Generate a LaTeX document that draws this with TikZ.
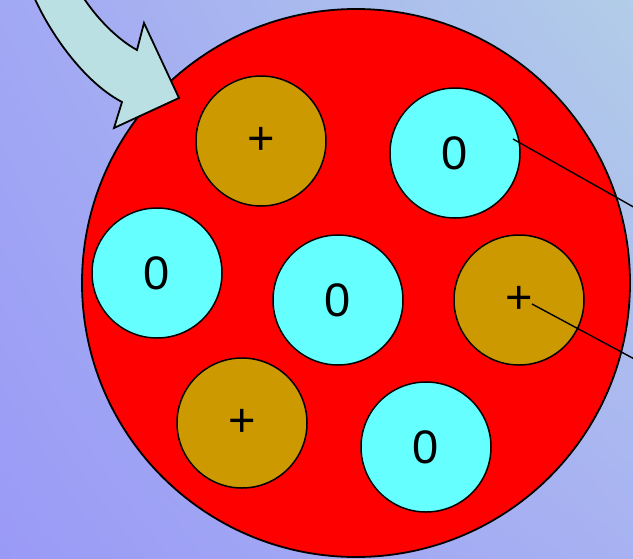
\documentclass[tikz,border=0pt]{standalone}
\usepackage{fontspec}
\setmainfont{Liberation Sans}
\usetikzlibrary{shadings}
\begin{document}
\begin{tikzpicture}[x=1pt,y=-1pt,
  ballbase/.style={circle,draw=black,line width=1.5pt,minimum size=130pt,inner sep=0pt,font=\fontsize{47}{47}\selectfont},
  protonball/.style={ballbase,fill=pluscol},
  neutronball/.style={ballbase,fill=zerocol},
  leadline/.style={draw=black,line width=1.4pt}]
\definecolor{bgUL}{RGB}{162,168,244}
\definecolor{bgUR}{RGB}{178,205,232}
\definecolor{bgLL}{RGB}{154,154,246}
\definecolor{bgLR}{RGB}{168,178,242}
\definecolor{pluscol}{RGB}{204,153,0}
\definecolor{zerocol}{RGB}{102,255,255}
\definecolor{arrowcol}{RGB}{187,224,227}
\useasboundingbox (0,0) rectangle (633,558);
\clip (0,0) rectangle (633,558);
\shade[upper left=bgUL,upper right=bgUR,lower left=bgLL,lower right=bgLR] (0,0) rectangle (633,558);
% big nucleus
\node[circle,draw=black,line width=1.8pt,fill=red,minimum size=548pt,inner sep=0pt] (nuc) at (356,283) {};
% curved block arrow
\draw[fill=arrowcol,line width=1.8pt,line join=miter]
  (28,-18) .. controls (42,22) and (80,80) .. (122,102)
  -- (114,128) -- (179,98) -- (144,23) -- (137,50)
  .. controls (115,38) and (90,12) .. (74,-18) -- cycle;
% protons and neutrons
\node[protonball] (p1) at (261,141) {+};
\node[neutronball] (n1) at (455,153) {0};
\node[neutronball] (n2) at (157,273) {0};
\node[neutronball] (n3) at (338,300) {0};
\node[protonball] (p2) at (519,300) {+};
\node[protonball] (p3) at (242,423) {+};
\node[neutronball] (n4) at (426,447) {0};
% leader lines
\coordinate (l1s) at (513,139);
\coordinate (l1e) at (653,218);
\coordinate (l2s) at (532,304);
\coordinate (l2e) at (653,369);
\draw[leadline] (l1s) -- (l1e);
\draw[leadline] (l2s) -- (l2e);
\end{tikzpicture}
\end{document}
